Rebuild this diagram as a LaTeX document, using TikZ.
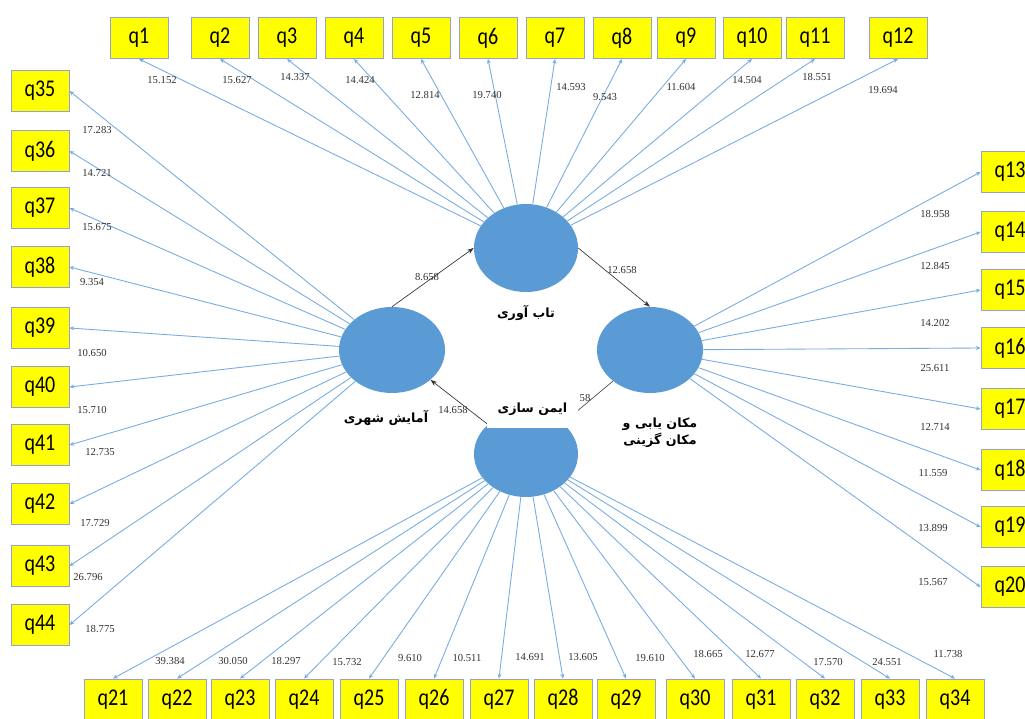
\documentclass[tikz,border=0pt]{standalone}
\usepackage{fontspec}
\usetikzlibrary{shapes.geometric,arrows.meta}
\TeXXeTstate=1
\newfontfamily\arabicfont[Script=Arabic]{DejaVu Sans}
\newfontfamily\qfont{Carlito}
\newfontfamily\numfont{Liberation Serif}
\definecolor{latblue}{RGB}{91,155,213}
\definecolor{indline}{RGB}{118,172,225}
\definecolor{qyellow}{RGB}{255,255,0}
\definecolor{qborder}{RGB}{150,160,210}
\definecolor{numgray}{RGB}{50,50,50}
\begin{document}
\begin{tikzpicture}[x=0.75pt,y=-0.75pt,
  qbox/.style={draw=qborder, line width=0.7pt, fill=qyellow, minimum width=43.5pt, minimum height=30.75pt, inner sep=0pt, font=\qfont\fontsize{15}{15}\selectfont},
  lat/.style={ellipse, fill=latblue, draw=none, inner sep=0pt},
  ind/.style={draw=indline, line width=0.65pt, -{Stealth[length=3.5pt,width=3pt]}},
  num/.style={font=\numfont\fontsize{8}{8}\selectfont, text=numgray, inner sep=0pt},
  struct/.style={draw=black!80, line width=0.5pt, -{Stealth[length=5pt,width=3.5pt]}},
  plabel/.style={font=\arabicfont\bfseries\fontsize{9.5}{12.5}\selectfont, inner sep=0pt, align=center}
]
\useasboundingbox (0,0) rectangle (1025,718);
\fill[white] (0,0) rectangle (1025,718);
\clip (0,0) rectangle (1025,718);
% latent variables
\node[lat, minimum width=78pt, minimum height=66pt] (T) at (526,248) {};
\node[lat, minimum width=79.5pt, minimum height=64.5pt] (L) at (392,350) {};
\node[lat, minimum width=79.5pt, minimum height=64.5pt] (R) at (650,350) {};
\node[lat, minimum width=78pt, minimum height=64.5pt] (B) at (526,454) {};
% top row
\foreach \n/\x/\v/\lx/\ly in {1/139/15.152/162/80, 2/220/15.627/237/80, 3/287/14.337/295/77, 4/354/14.424/360/80, 5/421/12.814/425/95, 6/488/19.740/487/95, 7/555/14.593/571/87, 8/622/9.543/605/97, 9/686/11.604/681/87, 10/752/14.504/747/80, 11/815/18.551/817/77, 12/898/19.694/883/90}{
  \node[qbox] (q\n) at (\x,38) {\scalebox{1}[1.2]{q\n}};
  \draw[ind] (T) -- (q\n.south);
  \node[num] (v\n) at (\lx,\ly) {\v};
}
% right column
\foreach \n/\y/\v/\lx/\ly in {13/172/18.958/935/214, 14/232/12.845/935/266, 15/290/14.202/935/323, 16/348/25.611/935/368, 17/409/12.714/935/427, 18/470/11.559/933/473, 19/527/13.899/933/528, 20/587/15.567/933/582}{
  \node[qbox] (q\n) at (1010,\y) {\scalebox{1}[1.2]{q\n}};
  \draw[ind] (R) -- (q\n.west);
  \node[num] (v\n) at (\lx,\ly) {\v};
}
% bottom row
\foreach \n/\x/\v/\lx/\ly in {21/113/39.384/170/661, 22/177/30.050/233/661, 23/240/18.297/286/661, 24/304/15.732/347/662, 25/369/9.610/410/658, 26/434/10.511/467/658, 27/499/14.691/530/657, 28/563/13.605/583/657, 29/626/19.610/650/658, 30/695/18.665/708/654, 31/761/12.677/760/654, 32/825/17.570/828/662, 33/890/24.551/887/662, 34/955/11.738/948/654}{
  \node[qbox] (q\n) at (\x,699.5) {\scalebox{1}[1.2]{q\n}};
  \draw[ind] (B) -- (q\n.north);
  \node[num] (v\n) at (\lx,\ly) {\v};
}
% left column
\foreach \n/\y/\v/\lx/\ly in {35/91/17.283/97/130, 36/151/14.721/97/173, 37/208/15.675/97/227, 38/267/9.354/92/282, 39/328/10.650/92/353, 40/387/15.710/92/410, 41/445/12.735/100/452, 42/504/17.729/95/523, 43/566/26.796/88/577, 44/625/18.775/100/629}{
  \node[qbox] (q\n) at (40,\y) {\scalebox{1}[1.2]{q\n}};
  \draw[ind] (L) -- (q\n.east);
  \node[num] (v\n) at (\lx,\ly) {\v};
}
% structural paths
\draw[struct] (L.north) -- (T.west);
\draw[struct] (T.east) -- (R.north);
\draw[struct] (B) -- (L);
\draw[draw=black!70, line width=0.5pt] (B) -- (R);
% label covering top of bottom ellipse
\node[plabel, fill=white, minimum width=68pt, minimum height=28.5pt] (lB) at (532.5,409) {\beginR ایمن سازی\endR};
\node[num] (p1) at (427,277) {8.658};
\node[num] (p2) at (622,270) {12.658};
\node[num] (p3) at (453,410) {14.658};
\node[num] (p4) at (585,398) {58};
% latent labels
\node[plabel] (lT) at (526,313) {\beginR تاب آوری\endR};
\node[plabel] (lL) at (386,418) {\beginR آمایش شهری\endR};
\node[plabel] (lR) at (660,433) {\beginR مکان یابی و\endR\\\beginR مکان گزینی\endR};
\end{tikzpicture}
\end{document}
